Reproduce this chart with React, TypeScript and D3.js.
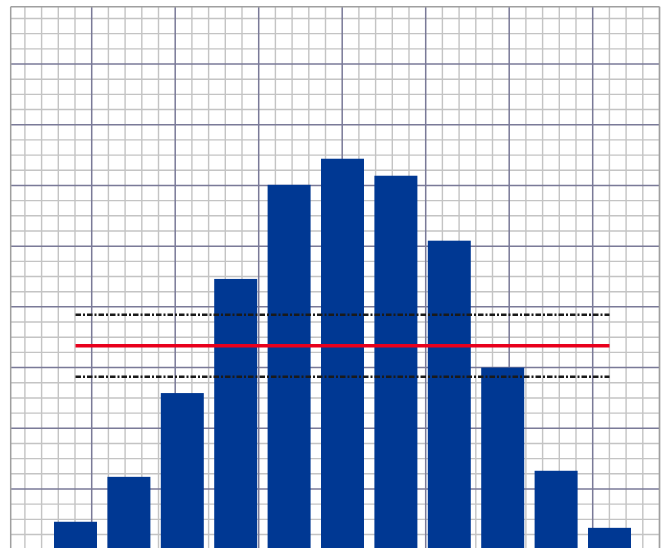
import React from "react";
import * as d3 from "d3";

// ---- data ----
const categories = ["1", "2", "3", "4", "5", "6", "7", "8", "9", "10", "11"];
const values = [4.6, 12.0, 25.8, 44.6, 60.1, 64.4, 61.6, 50.9, 30.0, 13.0, 3.6];
const meanValue = 33.6;
const upperValue = 38.7;
const lowerValue = 28.5;
const yMajorTicks = [0, 10, 20, 30, 40, 50, 60, 70, 80];
const yMinorStep = 2.5;
const xMajorTicks = [0, 1, 2, 3, 4, 5, 6];
const xMinorStep = 0.2;

const W = 664;
const H = 548;

export default function App() {
  const plotLeft = 10.7;
  const plotRight = 659.5;
  const plotTop = 6.7;
  const plotBottom = 549.7;

  const y = d3.scaleLinear().domain([0, 10]).range([plotBottom, plotBottom - 60.71]);
  const yTop = y.invert(plotTop);

  const gx = d3.scaleLinear().domain([0, 1]).range([91.7, 175.2]);
  const gxMin = gx.invert(plotLeft);
  const gxMax = gx.invert(plotRight);

  const x = d3
    .scaleBand<string>()
    .domain(categories)
    .range([48.8, 636.2])
    .paddingInner(0.195)
    .paddingOuter(0.0975);

  const minorY = d3.range(0, yTop, yMinorStep).filter((v) => Math.abs(v % 10) > 1e-6);
  const minorX = d3
    .range(Math.ceil(gxMin / xMinorStep) * xMinorStep, gxMax + 1e-6, xMinorStep)
    .filter((v) => Math.abs(v - Math.round(v)) > 1e-6);

  const lineX1 = (x(categories[0]) ?? 0) + x.bandwidth() / 2;
  const lineX2 = (x(categories[categories.length - 1]) ?? 0) + x.bandwidth() / 2;

  const minorColor = "#c4c4c4";
  const majorColor = "#7a7a98";

  return (
    <svg
      width={W}
      height={H}
      style={{ position: "absolute", left: 0, top: 0, background: "#fff", display: "block" }}
    >
      <rect x={0} y={0} width={W} height={H} fill="#fff" />
      <g>
        {minorX.map((v, i) => (
          <line key={"mx" + i} x1={gx(v)} x2={gx(v)} y1={plotTop} y2={plotBottom} stroke={minorColor} strokeWidth={1.4} />
        ))}
        {minorY.map((v, i) => (
          <line key={"my" + i} x1={plotLeft} x2={plotRight} y1={y(v)} y2={y(v)} stroke={minorColor} strokeWidth={1.4} />
        ))}
        {xMajorTicks.map((v, i) => (
          <line key={"Mx" + i} x1={gx(v)} x2={gx(v)} y1={plotTop} y2={plotBottom} stroke={majorColor} strokeWidth={1.5} />
        ))}
        {yMajorTicks.filter((v) => v > 0).map((v, i) => (
          <line key={"My" + i} x1={plotLeft} x2={plotRight} y1={y(v)} y2={y(v)} stroke={majorColor} strokeWidth={1.5} />
        ))}
        <line x1={plotLeft} x2={plotRight} y1={plotTop} y2={plotTop} stroke="#a0a0a0" strokeWidth={1.5} />
        <line x1={plotLeft} x2={plotLeft} y1={plotTop} y2={plotBottom} stroke="#a0a0a0" strokeWidth={1.5} />
        <line x1={plotRight} x2={plotRight} y1={plotTop} y2={plotBottom} stroke="#a0a0a0" strokeWidth={1.5} />
      </g>
      <g>
        {values.map((v, i) => (
          <rect
            key={"b" + i}
            x={x(categories[i])}
            y={y(v)}
            width={x.bandwidth()}
            height={y(0) - y(v)}
            fill="#003893"
          />
        ))}
      </g>
      <g>
        <line x1={lineX1} x2={lineX2} y1={y(upperValue)} y2={y(upperValue)} stroke="#1a1a1a" strokeWidth={2.4} strokeDasharray="5.5,2,2,2" />
        <line x1={lineX1} x2={lineX2} y1={y(lowerValue)} y2={y(lowerValue)} stroke="#1a1a1a" strokeWidth={2.4} strokeDasharray="5.5,2,2,2" />
        <line x1={lineX1} x2={lineX2} y1={y(meanValue)} y2={y(meanValue)} stroke="#e8001c" strokeWidth={3.4} />
      </g>
    </svg>
  );
}
